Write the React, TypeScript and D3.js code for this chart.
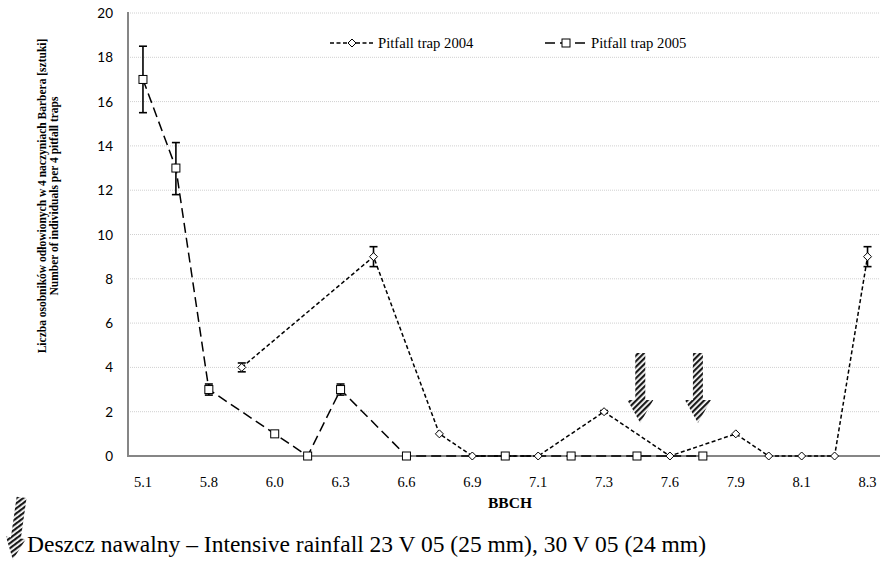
import React from "react";
import * as d3 from "d3";

// 23 growth-stage categories, Excel shows a label on every other one
const categories = ["5.1", "", "5.8", "", "6.0", "", "6.3", "", "6.6", "", "6.9", "", "7.1", "", "7.3", "", "7.6", "", "7.9", "", "8.1", "", "8.3"];
const yTicks = [0, 2, 4, 6, 8, 10, 12, 14, 16, 18, 20];

const trap2004 = [null, null, null, 4, null, null, null, 9, null, 1, 0, null, 0, null, 2, null, 0, null, 1, 0, 0, 0, 9];
const trap2005 = [17, 13, 3, null, 1, 0, 3, null, 0, null, null, 0, null, 0, null, 0, null, 0, null, null, null, null, null];
// error bar half-widths (plus, minus)
const err2004Plus = [0, 0, 0, 0.2, 0, 0, 0, 0.45, 0, 0, 0, 0, 0, 0, 0.05, 0, 0, 0, 0, 0, 0, 0, 0.45];
const err2004Minus = [0, 0, 0, 0.2, 0, 0, 0, 0.45, 0, 0, 0, 0, 0, 0, 0.05, 0, 0, 0, 0, 0, 0, 0, 0.45];
const err2005Plus = [1.5, 1.15, 0.25, 0, 0, 0, 0.25, 0, 0, 0, 0, 0, 0, 0, 0, 0, 0, 0, 0, 0, 0, 0, 0];
const err2005Minus = [1.5, 1.2, 0.25, 0, 0, 0, 0.25, 0, 0, 0, 0, 0, 0, 0, 0, 0, 0, 0, 0, 0, 0, 0, 0];
// rainfall arrows, placed in category units
const rainfallAt = [15.1, 16.85];

const W = 880;
const H = 568;

type Pt = { i: number; v: number };

const toPoints = (arr: (number | null)[]): Pt[] =>
  arr.map((v, i) => ({ i, v })).filter((d) => d.v !== null) as Pt[];

const Arrow = ({ cx, top, bottom, shaft = 5, head = 13, headLen = 23 }: { cx: number; top: number; bottom: number; shaft?: number; head?: number; headLen?: number }) => {
  const headTop = bottom - headLen;
  const d =
    `M${cx - shaft},${top} L${cx + shaft},${top} L${cx + shaft},${headTop} ` +
    `L${cx + head},${headTop} L${cx},${bottom} L${cx - head},${headTop} L${cx - shaft},${headTop} Z`;
  return <path d={d} fill="url(#stripes)" />;
};

const App = () => {
  const x = d3.scaleBand<number>().domain(d3.range(categories.length)).range([126.5, 884]);
  const cx = (i: number) => (x(0) as number) + x.bandwidth() * (i + 0.5);
  const y = d3.scaleLinear().domain([0, 20]).range([456, 13]);

  const p2004 = toPoints(trap2004);
  const p2005 = toPoints(trap2005);
  const line = d3
    .line<Pt>()
    .x((d) => cx(d.i))
    .y((d) => y(d.v));

  const errBars = (pts: Pt[], plus: number[], minus: number[], key: string) =>
    pts
      .filter((d) => plus[d.i] > 0 || minus[d.i] > 0)
      .map((d) => {
        const px = cx(d.i);
        const y1 = y(d.v + plus[d.i]);
        const y2 = y(d.v - minus[d.i]);
        return (
          <g key={key + d.i} stroke="#000" strokeWidth={1.6}>
            <line x1={px} x2={px} y1={y1} y2={y2} />
            <line x1={px - 4} x2={px + 4} y1={y1} y2={y1} />
            <line x1={px - 4} x2={px + 4} y1={y2} y2={y2} />
          </g>
        );
      });

  const diamond = (px: number, py: number, k: string) => (
    <path
      key={k}
      d={`M${px},${py - 4} L${px + 4},${py} L${px},${py + 4} L${px - 4},${py} Z`}
      fill="#fff"
      stroke="#000"
      strokeWidth={1}
    />
  );
  const square = (px: number, py: number, k: string) => (
    <rect key={k} x={px - 4} y={py - 4} width={8} height={8} fill="#fff" stroke="#000" strokeWidth={1} />
  );

  const serif = "'Liberation Serif', 'Times New Roman', serif";
  const sans = "Lato, 'Open Sans', sans-serif";

  return (
    <svg width={W} height={H} style={{ position: "absolute", left: 0, top: 0, background: "#fff" }}>
      <defs>
        <pattern id="stripes" width={4} height={4} patternUnits="userSpaceOnUse" patternTransform="rotate(45)">
          <rect width={4} height={4} fill="#fff" />
          <rect width={2.2} height={4} fill="#1a1a1a" />
        </pattern>
      </defs>

      {/* grid */}
      {yTicks
        .filter((t) => t > 0)
        .map((t) => (
          <line key={"g" + t} x1={128} x2={W} y1={y(t)} y2={y(t)} stroke="#d0d0d0" strokeWidth={1} strokeDasharray="1,1" />
        ))}

      {/* y tick labels */}
      {yTicks.map((t) => (
        <text key={"yt" + t} x={113} y={y(t) + 5} textAnchor="end" fontFamily={sans} fontSize={13.5} fill="#000">
          {t}
        </text>
      ))}

      {/* axes */}
      <line x1={128} x2={128} y1={12} y2={457} stroke="#868686" strokeWidth={2} />
      <line x1={127} x2={W} y1={456} y2={456} stroke="#868686" strokeWidth={2} />

      {/* x labels */}
      {categories.map((c, i) =>
        c ? (
          <text key={"xl" + i} x={cx(i)} y={487} textAnchor="middle" fontFamily={serif} fontSize={14.5} fill="#000">
            {c}
          </text>
        ) : null
      )}
      <text x={510} y={508} textAnchor="middle" fontFamily={serif} fontWeight="bold" fontSize={15.5}>
        BBCH
      </text>

      {/* y title */}
      <g transform="translate(46,196) rotate(-90)" fontFamily={serif} fontWeight="bold" fontSize={11.5} textAnchor="middle">
        <text x={0} y={0}>Liczba osobników odłowionych w 4 naczyniach Barbera [sztuki]</text>
        <text x={0} y={12}>Number of individuals per 4 pitfall traps</text>
      </g>

      {/* series lines */}
      <path d={line(p2005) || ""} fill="none" stroke="#000" strokeWidth={1.5} strokeDasharray="10,5" />
      <path d={line(p2004) || ""} fill="none" stroke="#000" strokeWidth={1.5} strokeDasharray="4,2.5" />

      {errBars(p2005, err2005Plus, err2005Minus, "e5")}
      {errBars(p2004, err2004Plus, err2004Minus, "e4")}

      {p2005.map((d) => square(cx(d.i), y(d.v), "s" + d.i))}
      {p2004.map((d) => diamond(cx(d.i), y(d.v), "d" + d.i))}

      {/* rainfall arrows */}
      {rainfallAt.map((r) => (
        <Arrow key={"r" + r} cx={cx(r)} top={353} bottom={423} />
      ))}

      {/* legend */}
      <line x1={330} x2={375} y1={43} y2={43} stroke="#000" strokeWidth={1.5} strokeDasharray="4,2.5" />
      {diamond(352, 43, "ld")}
      <text x={378} y={48} fontFamily={serif} fontSize={14.7}>
        Pitfall trap 2004
      </text>
      <line x1={545} x2={588} y1={43} y2={43} stroke="#000" strokeWidth={1.5} strokeDasharray="10,5" />
      {square(566, 43, "ls")}
      <text x={591} y={48} fontFamily={serif} fontSize={14.7}>
        Pitfall trap 2005
      </text>

      {/* footnote */}
      <g transform="rotate(8,17,530)">
        <Arrow cx={17} top={497} bottom={560} shaft={5} head={10} headLen={22} />
      </g>
      <text x={27} y={552} fontFamily={serif} fontSize={23.5}>
        Deszcz nawalny – Intensive rainfall 23 V 05 (25 mm), 30 V 05 (24 mm)
      </text>
    </svg>
  );
};

export default App;
